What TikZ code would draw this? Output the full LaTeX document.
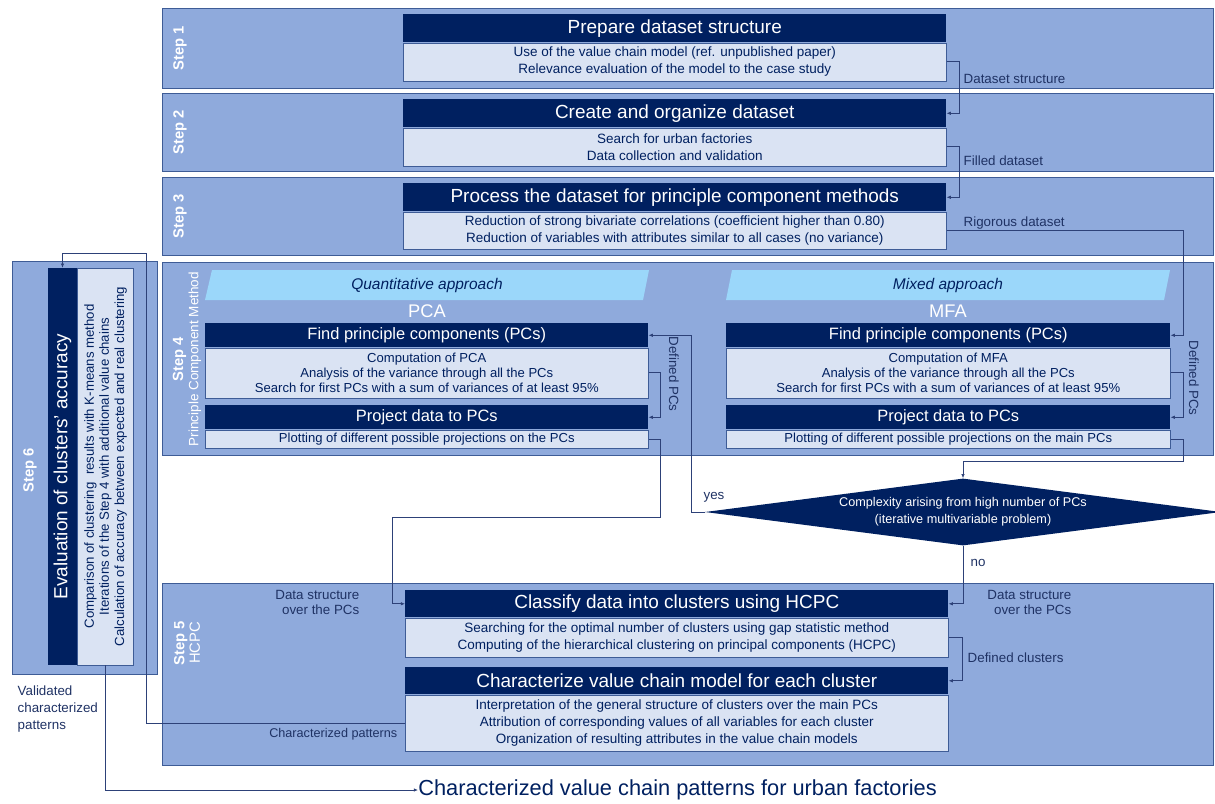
\documentclass[tikz,border=0pt]{standalone}
\usepackage{fontspec}
\setmainfont{Liberation Sans}
\usetikzlibrary{shapes.geometric,arrows.meta}

\newdimen\pxu \pxu=0.025cm

\definecolor{navy}{RGB}{0,32,96}
\definecolor{bandfill}{RGB}{143,170,220}
\definecolor{bandline}{RGB}{62,92,150}
\definecolor{bodyfill}{RGB}{218,227,243}
\definecolor{parafill}{RGB}{155,215,250}
\definecolor{txtblue}{RGB}{31,50,100}
\definecolor{linkblue}{RGB}{45,65,120}

\begin{document}
\begin{tikzpicture}
	[x=0.025cm, y=-0.025cm,
		band/.style		={rectangle, draw=bandline, fill=bandfill, anchor=north west,
									inner sep=0pt},
		steplbl/.style	={rotate=90, text=white, font=\bfseries\fontsize{10.5}{11}\selectfont},
		head/.style		={rectangle, fill=navy, text=white, anchor=north west,
									font=\fontsize{13.5}{16}\selectfont,
									minimum height=28*\pxu, inner sep=0pt},
		body/.style		={rectangle, draw=bandline, fill=bodyfill, text=navy, anchor=north,
									font=\fontsize{9.6}{12}\selectfont, align=center, inner sep=0pt},
		approach/.style	={text=navy, font=\itshape\fontsize{11}{13}\selectfont},
		method/.style	={text=white, font=\fontsize{13}{15}\selectfont},
		decision/.style	={diamond, fill=navy, text=white, aspect=7.8, inner sep=0pt,
									font=\fontsize{9}{12}\selectfont, align=center,
									minimum width=516*\pxu, minimum height=67*\pxu},
		lbl/.style		={text=txtblue, font=\fontsize{9.5}{11}\selectfont, inner sep=1pt},
		line/.style		={draw=linkblue, line width=0.5pt, -{Latex[length=3pt,width=2.5pt]}}
	]
\useasboundingbox (0,0) rectangle (1215,803);

% bands
\node [band, minimum width=1051*\pxu, minimum height=80*\pxu]  (step1) at (162,8)   {};
\node [band, minimum width=1051*\pxu, minimum height=78*\pxu]  (step2) at (162,93)  {};
\node [band, minimum width=1051*\pxu, minimum height=78*\pxu]  (step3) at (162,177) {};
\node [band, minimum width=1051*\pxu, minimum height=193*\pxu] (step4) at (162,262) {};
\node [band, minimum width=1051*\pxu, minimum height=182*\pxu] (step5) at (162,583) {};
\node [band, minimum width=145*\pxu,  minimum height=413*\pxu] (step6) at (12,261)  {};

\node [steplbl] (lbl1) at (180,48)  {Step 1};
\node [steplbl] (lbl2) at (180,132) {Step 2};
\node [steplbl] (lbl3) at (180,216) {Step 3};
\node [steplbl, align=center] (lbl4) at (187,359)
	{Step 4\\{\mdseries\fontsize{9.6}{11}\selectfont Principle Component Method}};
\node [steplbl, align=center] (lbl5) at (187,643)
	{Step 5\\{\mdseries HCPC}};
\node [steplbl] (lbl6) at (30,470) {Step 6};

% step 1
\node [head, minimum width=543*\pxu] (prepare) at (403,14) {Prepare dataset structure};
\node [body, minimum width=543*\pxu, minimum height=38*\pxu] (prepare body) at (prepare.south)
	{Use of the value chain model (ref. unpublished paper)\\
	 Relevance evaluation of the model to the case study};
% step 2
\node [head, minimum width=543*\pxu] (create) at (403,99) {Create and organize dataset};
\node [body, minimum width=543*\pxu, minimum height=38*\pxu] (create body) at (create.south)
	{Search for urban factories\\
	 Data collection and validation};
% step 3
\node [head, minimum width=543*\pxu] (process) at (403,183)
	{Process the dataset for principle component methods};
\node [body, minimum width=543*\pxu, minimum height=37*\pxu] (process body) at (process.south)
	{Reduction of strong bivariate correlations (coefficient higher than 0.80)\\
	 Reduction of variables with attributes similar to all cases (no variance)};

% step 4
\fill [parafill] (212,270) -- (649,270) -- (643,300) -- (205,300) -- cycle;
\fill [parafill] (732,270) -- (1170,270) -- (1164,300) -- (726,300) -- cycle;
\node [approach] (quant) at (427,285) {Quantitative approach};
\node [approach] (mixed) at (948,285) {Mixed approach};
\node [method] (pca) at (427,311) {PCA};
\node [method] (mfa) at (948,311) {MFA};

\node [head, minimum width=443*\pxu, minimum height=24*\pxu, font=\fontsize{11.7}{14}\selectfont]
	(pca find) at (205,323) {Find principle components (PCs)};
\node [body, minimum width=443*\pxu, minimum height=50*\pxu, font=\fontsize{9.3}{11}\selectfont]
	(pca find body) at (pca find.south)
	{Computation of PCA\\
	 Analysis of the variance through all the PCs\\
	 Search for first PCs with a sum of variances of at least 95\%};
\node [head, minimum width=443*\pxu, minimum height=24*\pxu, font=\fontsize{11.7}{14}\selectfont]
	(pca proj) at (205,405) {Project data to PCs};
\node [body, minimum width=443*\pxu, minimum height=18*\pxu, font=\fontsize{9.3}{11}\selectfont]
	(pca proj body) at (pca proj.south)
	{Plotting of different possible projections on the PCs};

\node [head, minimum width=444*\pxu, minimum height=24*\pxu, font=\fontsize{11.7}{14}\selectfont]
	(mfa find) at (726,323) {Find principle components (PCs)};
\node [body, minimum width=444*\pxu, minimum height=50*\pxu, font=\fontsize{9.3}{11}\selectfont]
	(mfa find body) at (mfa find.south)
	{Computation of MFA\\
	 Analysis of the variance through all the PCs\\
	 Search for first PCs with a sum of variances of at least 95\%};
\node [head, minimum width=444*\pxu, minimum height=24*\pxu, font=\fontsize{11.7}{14}\selectfont]
	(mfa proj) at (726,405) {Project data to PCs};
\node [body, minimum width=444*\pxu, minimum height=18*\pxu, font=\fontsize{9.3}{11}\selectfont]
	(mfa proj body) at (mfa proj.south)
	{Plotting of different possible projections on the main PCs};

% decision
\node [decision] (complex) at (963,512)
	{Complexity arising from high number of PCs\\(iterative multivariable problem)};

% step 5
\node [head, minimum width=543*\pxu, minimum height=27*\pxu] (classify) at (405,590)
	{Classify data into clusters using HCPC};
\node [body, minimum width=543*\pxu, minimum height=39*\pxu] (classify body) at (classify.south)
	{Searching for the optimal number of clusters using gap statistic method\\
	 Computing of the hierarchical clustering on principal components (HCPC)};
\node [head, minimum width=543*\pxu, minimum height=27*\pxu] (character) at (405,667)
	{Characterize value chain model for each cluster};
\node [body, minimum width=543*\pxu, minimum height=56*\pxu] (character body) at (character.south)
	{Interpretation of the general structure of clusters over the main PCs\\
	 Attribution of corresponding values of all variables for each cluster\\
	 Organization of resulting attributes in the value chain models};

% step 6
\node [head, rotate=90, anchor=center, minimum width=397*\pxu, minimum height=29*\pxu]
	(evaluate) at (62.5,466.5) {Evaluation of clusters’ accuracy};
\node [body, rotate=90, minimum width=397*\pxu, minimum height=56*\pxu,
	font=\fontsize{9.4}{10.8}\selectfont]
	(evaluate body) at (evaluate.south)
	{Comparison of clustering\ \ results with K-means method\\
	 Iterations of the Step 4 with additional value chains\\
	 Calculation of accuracy between expected and real clustering};

% output
\node [lbl, anchor=west, text=navy, inner sep=0pt, font=\fontsize{15.5}{18}\selectfont]
	(patterns) at (418,790) {Characterized value chain patterns for urban factories};

% labels
\node [lbl, anchor=west] (l dataset)  at (962,79)  {Dataset structure};
\node [lbl, anchor=west] (l filled)   at (962,161) {Filled dataset};
\node [lbl, anchor=west] (l rigorous) at (962,223) {Rigorous dataset};
\node [lbl, rotate=-90]  (l defpca)   at (674,374) {Defined PCs};
\node [lbl, rotate=-90]  (l defmfa)   at (1194,378) {Defined PCs};
\node [lbl]              (l yes)      at (714,497) {yes};
\node [lbl]              (l no)       at (978,563) {no};
\node [lbl, anchor=east, align=right, font=\fontsize{9.5}{10.7}\selectfont]
	(l struct left)  at (361,602) {Data structure\\over the PCs};
\node [lbl, anchor=east, align=right, font=\fontsize{9.5}{10.7}\selectfont]
	(l struct right) at (1073,602) {Data structure\\over the PCs};
\node [lbl, anchor=west] (l clusters) at (966,658) {Defined clusters};
\node [lbl, anchor=east, font=\fontsize{9}{11}\selectfont] (l charpat) at (399,734) {Characterized patterns};
\node [lbl, anchor=north west, align=left, font=\fontsize{9.5}{12}\selectfont]
	(l validated) at (16,684) {Validated\\characterized\\patterns};

\coordinate (c pca)  at (392,517);
\coordinate (c mfa)  at (963,461);
\coordinate (c back) at (146,253);

\begin{scope}[every path/.style=line]

	\path	(prepare body.east)	-- ++(13,0) |- (create.east);
	\path	(create body.east)	-- ++(13,0) |- (process.east);
	\path	(process body.east)	-- ++(237,0) |- (mfa find.east);

	\path	(pca find body.east)	-- ++(12,0) |- (pca proj.east);
	\path	(mfa find body.east)	-- ++(13,0) |- (mfa proj.east);

	\path	(pca proj body.east)	-- ++(12,0) |- (c pca) |- (classify.west);
	\path	(mfa proj body.east)	-- ++(13,0) |- (c mfa) -- (complex.north);

	\path	(complex.west)	-- ++(-13,0) |- (pca find.east);
	\path	(complex.south)	|- (classify.east);

	\path	(classify body.east)	-- ++(14,0) |- (character.east);

	\path	(character body.west)	-| (c back) -| (evaluate.east);
	\path	(evaluate body.west)	|- (patterns.west);
\end{scope}
\end{tikzpicture}
\end{document}
